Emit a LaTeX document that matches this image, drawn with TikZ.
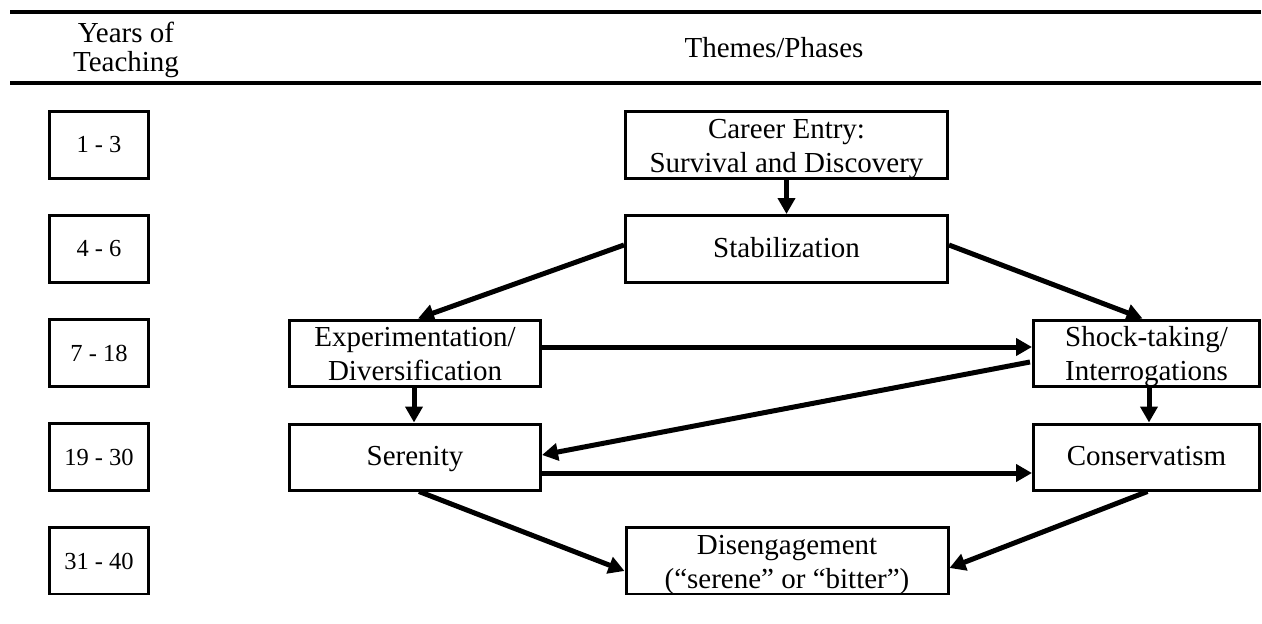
\documentclass[tikz,border=0pt]{standalone}
\usepackage{fontspec}
\setmainfont{Liberation Serif}
\usetikzlibrary{arrows.meta,calc}
\newcommand{\bigfs}{\fontsize{29}{34}\selectfont}
\newcommand{\hdfs}{\fontsize{29}{29.5}\selectfont}
\newcommand{\yrfs}{\fontsize{24.5}{28}\selectfont}
\begin{document}
\begin{tikzpicture}[x=1pt,y=-1pt,
  box/.style={draw, line width=3pt, inner sep=0pt, align=center, font=\bigfs},
  oneline/.style={text height=19pt, text depth=2pt},
  twoline/.style={text height=54pt, text depth=0pt},
  yrbox/.style={draw, line width=3pt, inner sep=0pt, align=center, font=\yrfs,
    minimum width=99pt, minimum height=67pt},
  rulebar/.style={line width=4.3pt},
  arr/.style={line width=5pt, -{Triangle[length=16pt,width=17pt]}}]
\useasboundingbox (0,0) rectangle (1262,624);
\begin{scope}
\clip (0,0) rectangle (1262,594);
% header rules
\draw[rulebar] (10,12) -- (1261,12);
\draw[rulebar] (10,83) -- (1261,83);
% header texts
\node[font=\hdfs, align=center, inner sep=0pt] (hyears) at (126,50) {Years of\\Teaching};
\node[font=\bigfs, inner sep=0pt, anchor=base] (hthemes) at (774,57) {Themes/Phases};
% year boxes
\node[yrbox] (y1) at (99,145) {1 - 3};
\node[yrbox] (y2) at (99,249) {4 - 6};
\node[yrbox] (y3) at (99,353) {7 - 18};
\node[yrbox] (y4) at (99,457) {19 - 30};
\node[yrbox] (y5) at (99,561) {31 - 40};
% phase boxes
\node[box, twoline, minimum width=322pt, minimum height=67pt] (car) at (786.5,145) {Career Entry:\\Survival and Discovery};
\node[box, oneline, minimum width=322pt, minimum height=67pt] (stab) at (786.5,249) {Stabilization};
\node[box, twoline, minimum width=251pt, minimum height=66pt] (exp) at (415,353) {Experimentation/\\Diversification};
\node[box, oneline, minimum width=251pt, minimum height=66pt] (ser) at (415,457) {Serenity};
\node[box, twoline, minimum width=226pt, minimum height=66pt] (shock) at (1146.5,353) {Shock-taking/\\Interrogations};
\node[box, oneline, minimum width=226pt, minimum height=66pt] (cons) at (1146.5,457) {Conservatism};
\node[box, twoline, minimum width=322pt, minimum height=67pt] (dis) at (787,561) {Disengagement\\(``serene'' or ``bitter'')};
% connectors
\draw[arr] (car.south) -- (stab.north);
\draw[arr] ($(stab.west)+(0,-4)$) -- ($(exp.north)+(3,0)$);
\draw[arr] ($(stab.east)+(0,-4)$) -- ($(shock.north)+(-4,0)$);
\draw[arr] ($(exp.east)+(0,-6)$) -- ($(shock.west)+(0,-6)$);
\draw[arr] ($(shock.west)+(-2,9)$) -- ($(ser.east)+(0,-2)$);
\draw[arr] ($(ser.east)+(0,16)$) -- ($(cons.west)+(0,16)$);
\draw[arr] ($(exp.south)+(-1,0)$) -- ($(ser.north)+(-1,0)$);
\draw[arr] ($(shock.south)+(2.5,0)$) -- ($(cons.north)+(2.5,0)$);
\draw[arr] ($(ser.south)+(4,0)$) -- ($(dis.west)+(0,10)$);
\draw[arr] ($(cons.south)+(1,0)$) -- ($(dis.east)+(0,7)$);
\end{scope}
\end{tikzpicture}
\end{document}
